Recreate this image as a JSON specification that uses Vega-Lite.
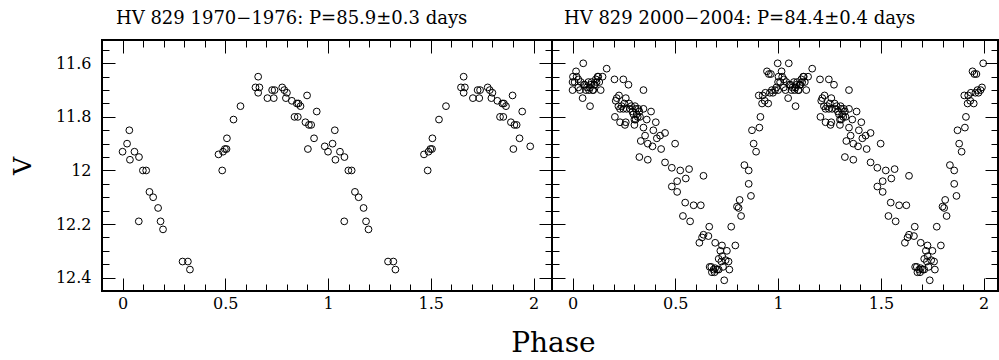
{
  "$schema": "https://vega.github.io/schema/vega-lite/v6.json",
  "padding": {"left": 9, "top": 8, "right": 0, "bottom": 0},
  "spacing": 0,
  "bounds": "flush",
  "title": {"text": "Phase", "orient": "bottom", "anchor": "middle", "fontSize": 28, "offset": 12, "dx": 49, "font": "DejaVu Serif", "fontWeight": "normal", "color": "black"},
  "config": {
    "view": {"stroke": "black", "strokeWidth": 2},
    "font": "DejaVu Serif",
    "axis": {"domain": false, "grid": false, "tickColor": "black", "tickWidth": 1, "labelFont": "DejaVu Serif", "labelFontSize": 16, "labelColor": "black", "labelFlush": false, "labelOverlap": false, "labelBound": false, "titleFont": "DejaVu Serif", "titleFontWeight": "normal", "titleColor": "black"},
    "title": {"font": "DejaVu Serif", "fontWeight": "normal", "color": "black", "fontSize": 18}
  },
  "datasets": {
    "early": [
      {"phase":0.000,"mag":11.93},{"phase":0.022,"mag":11.90},{"phase":0.033,"mag":11.85},{"phase":0.036,"mag":11.96},{"phase":0.058,"mag":11.93},{"phase":0.080,"mag":11.95},{"phase":0.079,"mag":12.19},{"phase":0.099,"mag":12.00},{"phase":0.115,"mag":12.00},{"phase":0.131,"mag":12.08},{"phase":0.149,"mag":12.10},{"phase":0.173,"mag":12.14},{"phase":0.185,"mag":12.19},{"phase":0.197,"mag":12.22},{"phase":0.292,"mag":12.34},{"phase":0.318,"mag":12.34},{"phase":0.328,"mag":12.37},{"phase":0.467,"mag":11.94},{"phase":0.485,"mag":12.00},{"phase":0.489,"mag":11.93},{"phase":0.498,"mag":11.92},{"phase":0.506,"mag":11.92},{"phase":0.508,"mag":11.88},{"phase":0.540,"mag":11.81},{"phase":0.574,"mag":11.76},{"phase":0.647,"mag":11.69},{"phase":0.660,"mag":11.65},{"phase":0.660,"mag":11.71},{"phase":0.666,"mag":11.69},{"phase":0.705,"mag":11.73},{"phase":0.728,"mag":11.70},{"phase":0.736,"mag":11.73},{"phase":0.740,"mag":11.70},{"phase":0.777,"mag":11.69},{"phase":0.787,"mag":11.70},{"phase":0.795,"mag":11.73},{"phase":0.800,"mag":11.71},{"phase":0.824,"mag":11.74},{"phase":0.848,"mag":11.75},{"phase":0.856,"mag":11.75},{"phase":0.866,"mag":11.76},{"phase":0.837,"mag":11.80},{"phase":0.853,"mag":11.80},{"phase":0.898,"mag":11.72},{"phase":0.890,"mag":11.82},{"phase":0.907,"mag":11.83},{"phase":0.918,"mag":11.83},{"phase":0.902,"mag":11.92},{"phase":0.932,"mag":11.88},{"phase":0.945,"mag":11.78},{"phase":0.984,"mag":11.91},
      {"phase":1.000,"mag":11.93},{"phase":1.022,"mag":11.90},{"phase":1.033,"mag":11.85},{"phase":1.036,"mag":11.96},{"phase":1.058,"mag":11.93},{"phase":1.080,"mag":11.95},{"phase":1.079,"mag":12.19},{"phase":1.099,"mag":12.00},{"phase":1.115,"mag":12.00},{"phase":1.131,"mag":12.08},{"phase":1.149,"mag":12.10},{"phase":1.173,"mag":12.14},{"phase":1.185,"mag":12.19},{"phase":1.197,"mag":12.22},{"phase":1.292,"mag":12.34},{"phase":1.318,"mag":12.34},{"phase":1.328,"mag":12.37},{"phase":1.467,"mag":11.94},{"phase":1.485,"mag":12.00},{"phase":1.489,"mag":11.93},{"phase":1.498,"mag":11.92},{"phase":1.506,"mag":11.92},{"phase":1.508,"mag":11.88},{"phase":1.540,"mag":11.81},{"phase":1.574,"mag":11.76},{"phase":1.647,"mag":11.69},{"phase":1.660,"mag":11.65},{"phase":1.660,"mag":11.71},{"phase":1.666,"mag":11.69},{"phase":1.705,"mag":11.73},{"phase":1.728,"mag":11.70},{"phase":1.736,"mag":11.73},{"phase":1.740,"mag":11.70},{"phase":1.777,"mag":11.69},{"phase":1.787,"mag":11.70},{"phase":1.795,"mag":11.73},{"phase":1.800,"mag":11.71},{"phase":1.824,"mag":11.74},{"phase":1.848,"mag":11.75},{"phase":1.856,"mag":11.75},{"phase":1.866,"mag":11.76},{"phase":1.837,"mag":11.80},{"phase":1.853,"mag":11.80},{"phase":1.898,"mag":11.72},{"phase":1.890,"mag":11.82},{"phase":1.907,"mag":11.83},{"phase":1.918,"mag":11.83},{"phase":1.902,"mag":11.92},{"phase":1.932,"mag":11.88},{"phase":1.945,"mag":11.78},{"phase":1.984,"mag":11.91}
    ],
    "late": [
      {"phase":0.000,"mag":11.67},{"phase":0.000,"mag":11.70},{"phase":0.002,"mag":11.65},{"phase":0.010,"mag":11.67},{"phase":0.017,"mag":11.63},{"phase":0.020,"mag":11.65},{"phase":0.028,"mag":11.66},{"phase":0.028,"mag":11.69},{"phase":0.036,"mag":11.70},{"phase":0.040,"mag":11.67},{"phase":0.049,"mag":11.73},{"phase":0.052,"mag":11.60},{"phase":0.055,"mag":11.68},{"phase":0.060,"mag":11.68},{"phase":0.065,"mag":11.70},{"phase":0.070,"mag":11.69},{"phase":0.077,"mag":11.67},{"phase":0.080,"mag":11.70},{"phase":0.085,"mag":11.69},{"phase":0.085,"mag":11.76},{"phase":0.090,"mag":11.68},{"phase":0.093,"mag":11.67},{"phase":0.098,"mag":11.70},{"phase":0.101,"mag":11.70},{"phase":0.105,"mag":11.68},{"phase":0.109,"mag":11.68},{"phase":0.113,"mag":11.66},{"phase":0.117,"mag":11.67},{"phase":0.122,"mag":11.65},{"phase":0.125,"mag":11.65},{"phase":0.130,"mag":11.67},{"phase":0.137,"mag":11.70},{"phase":0.146,"mag":11.65},{"phase":0.166,"mag":11.62},
      {"phase":0.204,"mag":11.66},{"phase":0.247,"mag":11.66},{"phase":0.272,"mag":11.68},{"phase":0.345,"mag":11.70},{"phase":0.215,"mag":11.73},{"phase":0.226,"mag":11.72},{"phase":0.210,"mag":11.74},{"phase":0.223,"mag":11.76},{"phase":0.231,"mag":11.77},{"phase":0.239,"mag":11.76},{"phase":0.247,"mag":11.77},{"phase":0.252,"mag":11.75},{"phase":0.259,"mag":11.73},{"phase":0.263,"mag":11.77},{"phase":0.275,"mag":11.75},{"phase":0.280,"mag":11.77},{"phase":0.285,"mag":11.76},{"phase":0.291,"mag":11.78},{"phase":0.296,"mag":11.79},{"phase":0.304,"mag":11.76},{"phase":0.307,"mag":11.77},{"phase":0.312,"mag":11.79},{"phase":0.320,"mag":11.77},{"phase":0.325,"mag":11.78},{"phase":0.301,"mag":11.81},{"phase":0.307,"mag":11.81},{"phase":0.317,"mag":11.80},{"phase":0.328,"mag":11.80},{"phase":0.345,"mag":11.77},{"phase":0.361,"mag":11.81},{"phase":0.382,"mag":11.78},{"phase":0.206,"mag":11.80},{"phase":0.231,"mag":11.82},{"phase":0.255,"mag":11.83},{"phase":0.259,"mag":11.82},{"phase":0.301,"mag":11.83},{"phase":0.345,"mag":11.84},{"phase":0.353,"mag":11.87},{"phase":0.393,"mag":11.85},{"phase":0.405,"mag":11.82},{"phase":0.410,"mag":11.88},{"phase":0.426,"mag":11.87},{"phase":0.450,"mag":11.86},{"phase":0.332,"mag":11.89},{"phase":0.366,"mag":11.90},{"phase":0.389,"mag":11.91},{"phase":0.431,"mag":11.92},{"phase":0.499,"mag":11.90},{"phase":0.325,"mag":11.95},{"phase":0.366,"mag":11.96},
      {"phase":0.450,"mag":11.97},{"phase":0.483,"mag":11.99},{"phase":0.524,"mag":12.00},{"phase":0.567,"mag":11.995},{"phase":0.551,"mag":12.03},{"phase":0.637,"mag":12.02},{"phase":0.483,"mag":12.06},{"phase":0.509,"mag":12.04},{"phase":0.509,"mag":12.08},{"phase":0.548,"mag":12.12},{"phase":0.589,"mag":12.13},{"phase":0.624,"mag":12.13},{"phase":0.537,"mag":12.17},{"phase":0.572,"mag":12.19},
      {"phase":0.665,"mag":12.21},{"phase":0.637,"mag":12.24},{"phase":0.630,"mag":12.25},{"phase":0.617,"mag":12.27},{"phase":0.661,"mag":12.245},{"phase":0.694,"mag":12.27},{"phase":0.727,"mag":12.28},{"phase":0.719,"mag":12.30},{"phase":0.751,"mag":12.30},{"phase":0.711,"mag":12.33},{"phase":0.724,"mag":12.34},{"phase":0.759,"mag":12.34},{"phase":0.667,"mag":12.36},{"phase":0.675,"mag":12.36},{"phase":0.686,"mag":12.37},{"phase":0.694,"mag":12.365},{"phase":0.703,"mag":12.37},{"phase":0.711,"mag":12.37},{"phase":0.732,"mag":12.36},{"phase":0.763,"mag":12.37},{"phase":0.678,"mag":12.38},{"phase":0.691,"mag":12.38},{"phase":0.738,"mag":12.41},{"phase":0.728,"mag":12.32},{"phase":0.745,"mag":12.335},
      {"phase":0.772,"mag":12.21},{"phase":0.792,"mag":12.28},{"phase":0.800,"mag":12.135},{"phase":0.808,"mag":12.14},{"phase":0.820,"mag":12.17},{"phase":0.813,"mag":12.11},{"phase":0.836,"mag":11.98},{"phase":0.857,"mag":12.00},{"phase":0.857,"mag":12.05},{"phase":0.868,"mag":12.095},{"phase":0.873,"mag":11.85},{"phase":0.881,"mag":11.90},{"phase":0.893,"mag":11.93},{"phase":0.909,"mag":11.84},{"phase":0.914,"mag":11.80},{"phase":0.922,"mag":11.75},{"phase":0.906,"mag":11.72},{"phase":0.925,"mag":11.72},{"phase":0.935,"mag":11.74},{"phase":0.938,"mag":11.71},{"phase":0.946,"mag":11.63},{"phase":0.952,"mag":11.75},{"phase":0.955,"mag":11.64},{"phase":0.960,"mag":11.71},{"phase":0.965,"mag":11.64},{"phase":0.970,"mag":11.70},{"phase":0.975,"mag":11.71},{"phase":0.985,"mag":11.70},{"phase":0.992,"mag":11.69},{"phase":0.998,"mag":11.60},
      {"phase":1.000,"mag":11.67},{"phase":1.000,"mag":11.70},{"phase":1.002,"mag":11.65},{"phase":1.010,"mag":11.67},{"phase":1.017,"mag":11.63},{"phase":1.020,"mag":11.65},{"phase":1.028,"mag":11.66},{"phase":1.028,"mag":11.69},{"phase":1.036,"mag":11.70},{"phase":1.040,"mag":11.67},{"phase":1.049,"mag":11.73},{"phase":1.052,"mag":11.60},{"phase":1.055,"mag":11.68},{"phase":1.060,"mag":11.68},{"phase":1.065,"mag":11.70},{"phase":1.070,"mag":11.69},{"phase":1.077,"mag":11.67},{"phase":1.080,"mag":11.70},{"phase":1.085,"mag":11.69},{"phase":1.085,"mag":11.76},{"phase":1.090,"mag":11.68},{"phase":1.093,"mag":11.67},{"phase":1.098,"mag":11.70},{"phase":1.101,"mag":11.70},{"phase":1.105,"mag":11.68},{"phase":1.109,"mag":11.68},{"phase":1.113,"mag":11.66},{"phase":1.117,"mag":11.67},{"phase":1.122,"mag":11.65},{"phase":1.125,"mag":11.65},{"phase":1.130,"mag":11.67},{"phase":1.137,"mag":11.70},{"phase":1.146,"mag":11.65},{"phase":1.166,"mag":11.62},
      {"phase":1.204,"mag":11.66},{"phase":1.247,"mag":11.66},{"phase":1.272,"mag":11.68},{"phase":1.345,"mag":11.70},{"phase":1.215,"mag":11.73},{"phase":1.226,"mag":11.72},{"phase":1.210,"mag":11.74},{"phase":1.223,"mag":11.76},{"phase":1.231,"mag":11.77},{"phase":1.239,"mag":11.76},{"phase":1.247,"mag":11.77},{"phase":1.252,"mag":11.75},{"phase":1.259,"mag":11.73},{"phase":1.263,"mag":11.77},{"phase":1.275,"mag":11.75},{"phase":1.280,"mag":11.77},{"phase":1.285,"mag":11.76},{"phase":1.291,"mag":11.78},{"phase":1.296,"mag":11.79},{"phase":1.304,"mag":11.76},{"phase":1.307,"mag":11.77},{"phase":1.312,"mag":11.79},{"phase":1.320,"mag":11.77},{"phase":1.325,"mag":11.78},{"phase":1.301,"mag":11.81},{"phase":1.307,"mag":11.81},{"phase":1.317,"mag":11.80},{"phase":1.328,"mag":11.80},{"phase":1.345,"mag":11.77},{"phase":1.361,"mag":11.81},{"phase":1.382,"mag":11.78},{"phase":1.206,"mag":11.80},{"phase":1.231,"mag":11.82},{"phase":1.255,"mag":11.83},{"phase":1.259,"mag":11.82},{"phase":1.301,"mag":11.83},{"phase":1.345,"mag":11.84},{"phase":1.353,"mag":11.87},{"phase":1.393,"mag":11.85},{"phase":1.405,"mag":11.82},{"phase":1.410,"mag":11.88},{"phase":1.426,"mag":11.87},{"phase":1.450,"mag":11.86},{"phase":1.332,"mag":11.89},{"phase":1.366,"mag":11.90},{"phase":1.389,"mag":11.91},{"phase":1.431,"mag":11.92},{"phase":1.499,"mag":11.90},{"phase":1.325,"mag":11.95},{"phase":1.366,"mag":11.96},
      {"phase":1.450,"mag":11.97},{"phase":1.483,"mag":11.99},{"phase":1.524,"mag":12.00},{"phase":1.567,"mag":11.995},{"phase":1.551,"mag":12.03},{"phase":1.637,"mag":12.02},{"phase":1.483,"mag":12.06},{"phase":1.509,"mag":12.04},{"phase":1.509,"mag":12.08},{"phase":1.548,"mag":12.12},{"phase":1.589,"mag":12.13},{"phase":1.624,"mag":12.13},{"phase":1.537,"mag":12.17},{"phase":1.572,"mag":12.19},
      {"phase":1.665,"mag":12.21},{"phase":1.637,"mag":12.24},{"phase":1.630,"mag":12.25},{"phase":1.617,"mag":12.27},{"phase":1.661,"mag":12.245},{"phase":1.694,"mag":12.27},{"phase":1.727,"mag":12.28},{"phase":1.719,"mag":12.30},{"phase":1.751,"mag":12.30},{"phase":1.711,"mag":12.33},{"phase":1.724,"mag":12.34},{"phase":1.759,"mag":12.34},{"phase":1.667,"mag":12.36},{"phase":1.675,"mag":12.36},{"phase":1.686,"mag":12.37},{"phase":1.694,"mag":12.365},{"phase":1.703,"mag":12.37},{"phase":1.711,"mag":12.37},{"phase":1.732,"mag":12.36},{"phase":1.763,"mag":12.37},{"phase":1.678,"mag":12.38},{"phase":1.691,"mag":12.38},{"phase":1.738,"mag":12.41},{"phase":1.728,"mag":12.32},{"phase":1.745,"mag":12.335},
      {"phase":1.772,"mag":12.21},{"phase":1.792,"mag":12.28},{"phase":1.800,"mag":12.135},{"phase":1.808,"mag":12.14},{"phase":1.820,"mag":12.17},{"phase":1.813,"mag":12.11},{"phase":1.836,"mag":11.98},{"phase":1.857,"mag":12.00},{"phase":1.857,"mag":12.05},{"phase":1.868,"mag":12.095},{"phase":1.873,"mag":11.85},{"phase":1.881,"mag":11.90},{"phase":1.893,"mag":11.93},{"phase":1.909,"mag":11.84},{"phase":1.914,"mag":11.80},{"phase":1.922,"mag":11.75},{"phase":1.906,"mag":11.72},{"phase":1.925,"mag":11.72},{"phase":1.935,"mag":11.74},{"phase":1.938,"mag":11.71},{"phase":1.946,"mag":11.63},{"phase":1.952,"mag":11.75},{"phase":1.955,"mag":11.64},{"phase":1.960,"mag":11.71},{"phase":1.965,"mag":11.64},{"phase":1.970,"mag":11.70},{"phase":1.975,"mag":11.71},{"phase":1.985,"mag":11.70},{"phase":1.992,"mag":11.69},{"phase":1.998,"mag":11.60}
    ]
  },
  "hconcat": [
    {
      "width": 450, "height": 251,
      "data": {"name": "early"},
      "title": {"text": "HV 829 1970−1976: P=85.9±0.3 days", "anchor": "start", "frame": "group", "dx": 14, "offset": 12},
      "layer": [
        {
          "mark": {"type": "point", "shape": "circle", "filled": false, "color": "black", "opacity": 1, "size": 46, "strokeWidth": 1},
          "encoding": {
            "x": {"field": "phase", "type": "quantitative", "scale": {"domain": [-0.1, 2.09], "nice": false, "zero": false},
              "axis": {"orient": "bottom", "title": null, "values": [0,0.1,0.2,0.3,0.4,0.5,0.6,0.7,0.8,0.9,1,1.1,1.2,1.3,1.4,1.5,1.6,1.7,1.8,1.9,2],
                "labelExpr": "round(datum.value*10) % 5 == 0 ? '' + datum.value : ''",
                "tickSize": {"condition": {"test": "round(datum.value*10) % 5 == 0", "value": -13}, "value": -7}, "labelPadding": 17}},
            "y": {"field": "mag", "type": "quantitative", "scale": {"domain": [11.513, 12.45], "nice": false, "zero": false, "reverse": true},
              "axis": {"orient": "left", "title": "V", "titleFontSize": 25, "titlePadding": 20, "values": [11.55,11.6,11.65,11.7,11.75,11.8,11.85,11.9,11.95,12,12.05,12.1,12.15,12.2,12.25,12.3,12.35,12.4],
                "labelExpr": "round(datum.value*100) % 20 == 0 ? '' + datum.value : ''",
                "tickSize": {"condition": {"test": "round(datum.value*100) % 20 == 0", "value": -13}, "value": -7}, "labelPadding": 24}}
          }
        },
        {
          "mark": {"type": "point", "opacity": 0},
          "encoding": {
            "x": {"field": "phase", "type": "quantitative", "scale": {"domain": [-0.1, 2.09], "nice": false, "zero": false},
              "axis": {"orient": "top", "title": null, "labels": false, "values": [0,0.1,0.2,0.3,0.4,0.5,0.6,0.7,0.8,0.9,1,1.1,1.2,1.3,1.4,1.5,1.6,1.7,1.8,1.9,2],
                "tickSize": {"condition": {"test": "round(datum.value*10) % 5 == 0", "value": -13}, "value": -7}}},
            "y": {"field": "mag", "type": "quantitative", "scale": {"domain": [11.513, 12.45], "nice": false, "zero": false, "reverse": true},
              "axis": {"orient": "right", "title": null, "labels": false, "values": [11.55,11.6,11.65,11.7,11.75,11.8,11.85,11.9,11.95,12,12.05,12.1,12.15,12.2,12.25,12.3,12.35,12.4],
                "tickSize": {"condition": {"test": "round(datum.value*100) % 20 == 0", "value": -13}, "value": -7}}}
          }
        }
      ],
      "resolve": {"axis": {"x": "independent", "y": "independent"}}
    },
    {
      "width": 446, "height": 251,
      "data": {"name": "late"},
      "title": {"text": "HV 829 2000−2004: P=84.4±0.4 days", "anchor": "start", "frame": "group", "dx": 12, "offset": 12},
      "layer": [
        {
          "mark": {"type": "point", "shape": "circle", "filled": false, "color": "black", "opacity": 1, "size": 46, "strokeWidth": 1},
          "encoding": {
            "x": {"field": "phase", "type": "quantitative", "scale": {"domain": [-0.1, 2.07], "nice": false, "zero": false},
              "axis": {"orient": "bottom", "title": null, "values": [0,0.1,0.2,0.3,0.4,0.5,0.6,0.7,0.8,0.9,1,1.1,1.2,1.3,1.4,1.5,1.6,1.7,1.8,1.9,2],
                "labelExpr": "round(datum.value*10) % 5 == 0 ? '' + datum.value : ''",
                "tickSize": {"condition": {"test": "round(datum.value*10) % 5 == 0", "value": -13}, "value": -7}, "labelPadding": 17}},
            "y": {"field": "mag", "type": "quantitative", "scale": {"domain": [11.513, 12.45], "nice": false, "zero": false, "reverse": true},
              "axis": {"orient": "left", "title": null, "labels": false, "values": [11.55,11.6,11.65,11.7,11.75,11.8,11.85,11.9,11.95,12,12.05,12.1,12.15,12.2,12.25,12.3,12.35,12.4],
                "tickSize": {"condition": {"test": "round(datum.value*100) % 20 == 0", "value": -13}, "value": -7}}}
          }
        },
        {
          "mark": {"type": "point", "opacity": 0},
          "encoding": {
            "x": {"field": "phase", "type": "quantitative", "scale": {"domain": [-0.1, 2.07], "nice": false, "zero": false},
              "axis": {"orient": "top", "title": null, "labels": false, "values": [0,0.1,0.2,0.3,0.4,0.5,0.6,0.7,0.8,0.9,1,1.1,1.2,1.3,1.4,1.5,1.6,1.7,1.8,1.9,2],
                "tickSize": {"condition": {"test": "round(datum.value*10) % 5 == 0", "value": -13}, "value": -7}}},
            "y": {"field": "mag", "type": "quantitative", "scale": {"domain": [11.513, 12.45], "nice": false, "zero": false, "reverse": true},
              "axis": {"orient": "right", "title": null, "labels": false, "values": [11.55,11.6,11.65,11.7,11.75,11.8,11.85,11.9,11.95,12,12.05,12.1,12.15,12.2,12.25,12.3,12.35,12.4],
                "tickSize": {"condition": {"test": "round(datum.value*100) % 20 == 0", "value": -13}, "value": -7}}}
          }
        }
      ],
      "resolve": {"axis": {"x": "independent", "y": "independent"}}
    }
  ]
}
